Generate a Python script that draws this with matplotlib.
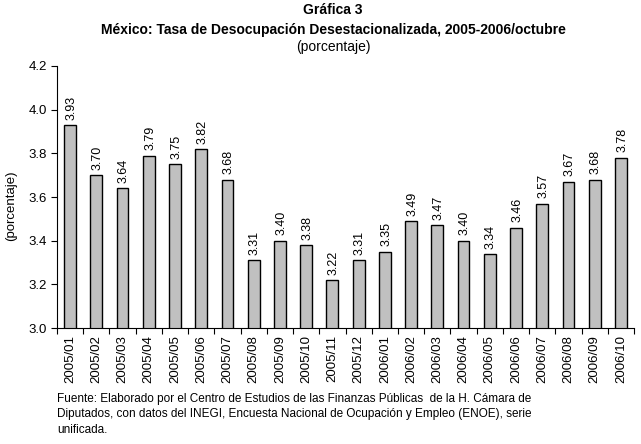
import matplotlib
matplotlib.use("Agg")
import matplotlib.pyplot as plt
import numpy as np

categories = ["2005/01", "2005/02", "2005/03", "2005/04", "2005/05", "2005/06",
              "2005/07", "2005/08", "2005/09", "2005/10", "2005/11", "2005/12",
              "2006/01", "2006/02", "2006/03", "2006/04", "2006/05", "2006/06",
              "2006/07", "2006/08", "2006/09", "2006/10"]
values = [3.93, 3.70, 3.64, 3.79, 3.75, 3.82, 3.68, 3.31, 3.40, 3.38, 3.22, 3.31,
          3.35, 3.49, 3.47, 3.40, 3.34, 3.46, 3.57, 3.67, 3.68, 3.78]
yticks = [3.0, 3.2, 3.4, 3.6, 3.8, 4.0, 4.2]

plt.rcParams['font.family'] = ['Liberation Sans', 'DejaVu Sans']

fig = plt.figure(figsize=(6.41, 4.44), dpi=100)
ax = fig.add_axes([57/641, 1-328/444, (634-57)/641, (328-66)/444])

x = np.arange(len(categories))
bars = ax.bar(x, values, width=0.45, bottom=0, color="#c0c0c0",
              edgecolor="black", linewidth=1.0, zorder=2)
for xi, v in zip(x, values):
    ax.text(xi + 0.05, v + 0.024, f"{v:.2f}", rotation=90, ha="center", va="bottom",
            fontsize=9)

ax.set_ylim(3.0, 4.2)
ax.set_xlim(-0.5, len(categories) - 0.5)
ax.set_yticks(yticks)
ax.set_yticklabels([f"{t:.1f}" for t in yticks], fontsize=9.5)
ax.set_xticks(x)
ax.set_xticklabels(categories, rotation=90, fontsize=9.5)
ax.tick_params(axis='x', length=0, pad=5)
ax.set_xticks(np.arange(len(categories) + 1) - 0.5, minor=True)
ax.tick_params(axis='x', which='minor', length=4, direction='out', width=0.8)
ax.tick_params(axis='y', length=4, direction='out', width=0.8, pad=3)
for s in ["top", "right"]:
    ax.spines[s].set_visible(False)
ax.spines["left"].set_linewidth(0.8)
ax.spines["bottom"].set_linewidth(0.8)
ax.set_ylabel("(porcentaje)", fontsize=9.5, va="center")
ax.yaxis.set_label_coords(-46/577, (328-206)/262)

fig.text(333/641, 1-10/444, "Gráfica 3", ha="center", va="center",
         fontsize=10, fontweight="bold")
fig.text(333/641, 1-30/444,
         "México: Tasa de Desocupación Desestacionalizada, 2005-2006/octubre",
         ha="center", va="center", fontsize=10, fontweight="bold")
fig.text(333/641, 1-47/444, "(porcentaje)", ha="center", va="center", fontsize=10)

fig.text(57/641, 1-393/444,
         "Fuente: Elaborado por el Centro de Estudios de las Finanzas Públicas  de la H. Cámara de\n"
         "Diputados, con datos del INEGI, Encuesta Nacional de Ocupación y Empleo (ENOE), serie\n"
         "unificada.",
         ha="left", va="top", fontsize=8.5, linespacing=1.38)

fig.savefig("out.png", dpi=100)
